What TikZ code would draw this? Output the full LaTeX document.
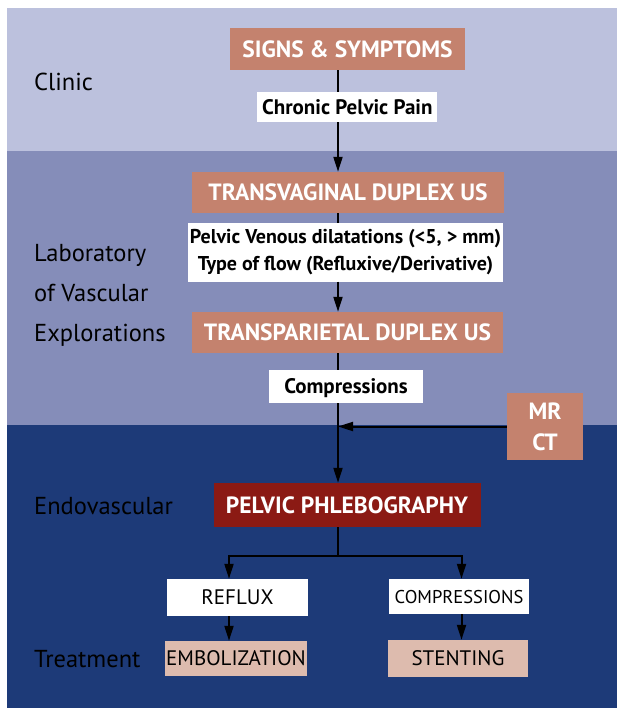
\documentclass[tikz,border=0pt]{standalone}
\usepackage{fontspec}
\setmainfont{PT Sans}
\usetikzlibrary{arrows.meta}

\definecolor{clinicband}{HTML}{BCC1DD}
\definecolor{labband}{HTML}{858DB9}
\definecolor{endoband}{HTML}{1D3A78}
\definecolor{examfill}{HTML}{C4826E}
\definecolor{phlebfill}{HTML}{8B1A14}
\definecolor{treatfill}{HTML}{DDBBAE}

\begin{document}
\begin{tikzpicture}[x=1pt, y=-1pt,
    flow/.style={-{Triangle[length=15pt,width=9pt]}, line width=2pt},
    link/.style={line width=2pt},
    level/.style={anchor=west, inner sep=0pt, text height=17.2pt, text depth=0pt,
      font=\fontsize{24.5}{28}\selectfont},
    exam/.style={fill=examfill, text=white, inner sep=0pt, text height=16.5pt, text depth=0pt,
      font=\fontsize{23.5}{26}\selectfont\bfseries},
    finding/.style={fill=white, inner sep=0pt, text height=14.7pt, text depth=0pt,
      font=\fontsize{21}{27}\selectfont\bfseries},
    branch/.style={fill=white, inner sep=0pt, text height=14.7pt, text depth=0pt,
      font=\fontsize{21}{24}\selectfont},
    therapy/.style={fill=treatfill, inner sep=0pt, text height=14.7pt, text depth=0pt,
      font=\fontsize{21}{24}\selectfont}]

  \useasboundingbox (0,0) rectangle (617,708);
  % bands
  \fill[clinicband] (7,8) rectangle (617,151);
  \fill[labband] (7,151) rectangle (617,425);
  \fill[endoband] (7,425) rectangle (617,708);

  % levels
  \node[level] (clinic) at (34,81.5) {Clinic};
  \node[level] (lab1) at (34,253) {Laboratory};
  \node[level] (lab2) at (34,292.5) {of Vascular};
  \node[level] (lab3) at (34,332.5) {Explorations};
  \node[level] (endo) at (34,505.5) {Endovascular};
  \node[level] (treat) at (34,659) {Treatment};

  % exams
  \node[exam, minimum width=235pt, minimum height=42pt] (signs) at (347.5,49) {SIGNS \& SYMPTOMS};
  \node[finding, minimum width=180pt, minimum height=30pt] (pain) at (347.3,107) {Chronic Pelvic Pain};
  \node[exam, minimum width=312pt, minimum height=41pt] (tvag) at (348,192.5) {TRANSVAGINAL DUPLEX US};
  \node[fill=white, inner sep=0pt, align=center, minimum width=315pt, minimum height=58pt,
    font=\fontsize{20}{27}\selectfont\bfseries] (dil) at (345.5,252.5)
    {Pelvic Venous dilatations (<5, > mm)\\Type of flow (Refluxive/Derivative)};
  \node[exam, minimum width=311pt, minimum height=41pt] (tpar) at (347.5,332.5) {TRANSPARIETAL DUPLEX US};
  \node[finding, minimum width=154pt, minimum height=33pt] (comp) at (346,386.5) {Compressions};
  \node[fill=examfill, text=white, inner sep=0pt, align=center, minimum width=76pt, minimum height=67pt,
    font=\fontsize{23.5}{31}\selectfont\bfseries] (mrct) at (545,426.5) {MR\\CT};
  \node[exam, fill=phlebfill, minimum width=267pt, minimum height=44pt] (phleb) at (347,505) {PELVIC PHLEBOGRAPHY};

  % treatment
  \node[branch, minimum width=141pt, minimum height=37pt] (reflux) at (237.5,597.5) {REFLUX};
  \node[branch, text height=13pt, font=\fontsize{18.5}{22}\selectfont,
    minimum width=139.5pt, minimum height=35pt] (compb) at (459,596.5) {COMPRESSIONS};
  \node[therapy, minimum width=142pt, minimum height=35pt] (embo) at (236,658.5) {EMBOLIZATION};
  \node[therapy, minimum width=140pt, minimum height=37pt] (stent) at (458,658.5) {STENTING};

  \coordinate (spine) at (338,0);
  \coordinate (forkL) at (229,556);
  \coordinate (forkR) at (461.5,556);

  \draw[link] (signs.south -| spine) -- (pain.north -| spine);
  \draw[flow] (pain.south -| spine) -- (tvag.north -| spine);
  \draw[link] (tvag.south -| spine) -- (dil.north -| spine);
  \draw[flow] (dil.south -| spine) -- (tpar.north -| spine);
  \draw[link] (tpar.south -| spine) -- (comp.north -| spine);
  \draw[flow] (comp.south -| spine) -- (phleb.north -| spine);
  \draw[flow] (mrct.west) -- (mrct.west -| spine);

  \draw[flow] (phleb.south -| spine) |- (forkL) -- (reflux.north -| forkL);
  \draw[flow] (phleb.south -| spine) |- (forkR) -- (compb.north -| forkR);
  \draw[flow] (reflux.south -| forkL) -- (embo.north -| forkL);
  \draw[flow] (compb.south -| forkR) -- (stent.north -| forkR);
\end{tikzpicture}
\end{document}
